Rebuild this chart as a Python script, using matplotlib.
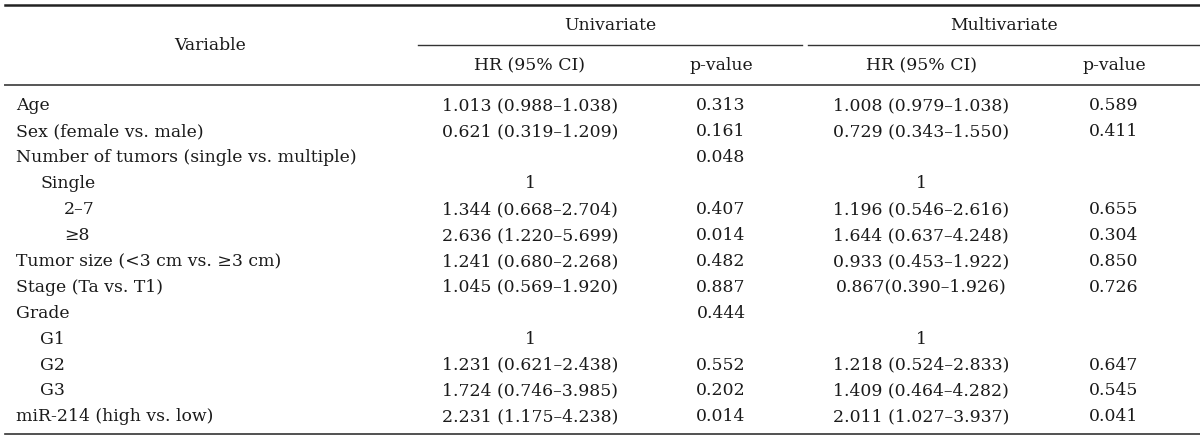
import matplotlib.pyplot as plt

variables = ["Age", "Sex (female vs. male)", "Number of tumors (single vs. multiple)",
             "Single", "2\u20137", "\u22658", "Tumor size (<3 cm vs. \u22653 cm)",
             "Stage (Ta vs. T1)", "Grade", "G1", "G2", "G3", "miR-214 (high vs. low)"]
indent = [0, 0, 0, 1, 2, 2, 0, 0, 0, 1, 1, 1, 0]
uni_hr = ["1.013 (0.988\u20131.038)", "0.621 (0.319\u20131.209)", "", "1",
          "1.344 (0.668\u20132.704)", "2.636 (1.220\u20135.699)", "1.241 (0.680\u20132.268)",
          "1.045 (0.569\u20131.920)", "", "1", "1.231 (0.621\u20132.438)",
          "1.724 (0.746\u20133.985)", "2.231 (1.175\u20134.238)"]
uni_p = ["0.313", "0.161", "0.048", "", "0.407", "0.014", "0.482", "0.887", "0.444",
         "", "0.552", "0.202", "0.014"]
multi_hr = ["1.008 (0.979\u20131.038)", "0.729 (0.343\u20131.550)", "", "1",
            "1.196 (0.546\u20132.616)", "1.644 (0.637\u20134.248)", "0.933 (0.453\u20131.922)",
            "0.867(0.390\u20131.926)", "", "1", "1.218 (0.524\u20132.833)",
            "1.409 (0.464\u20134.282)", "2.011 (1.027\u20133.937)"]
multi_p = ["0.589", "0.411", "", "", "0.655", "0.304", "0.850", "0.726", "", "",
           "0.647", "0.545", "0.041"]

fig = plt.figure(figsize=(12, 4.4), dpi=100)
ax = fig.add_axes([0, 0, 1, 1])
ax.set_xlim(0, 1200)
ax.set_ylim(440, 0)
ax.axis("off")

fs = 12.4
tc = "#1a1a1a"
font = dict(family="DejaVu Serif", fontsize=fs, color=tc, va="center")

# rules
ax.plot([5, 1200], [5, 5], color="#222222", lw=1.8)
ax.plot([418, 802], [45, 45], color="#333333", lw=1)
ax.plot([808, 1200], [45, 45], color="#333333", lw=1)
ax.plot([5, 1200], [85, 85], color="#555555", lw=1.4)
ax.plot([5, 1200], [434, 434], color="#333333", lw=1.2)

# header
ax.text(210, 46, "Variable", ha="center", **font)
ax.text(610, 25, "Univariate", ha="center", **font)
ax.text(1004, 25, "Multivariate", ha="center", **font)
cols = [530, 721, 921, 1114]
for x, lab in zip(cols, ["HR (95% CI)", "p-value", "HR (95% CI)", "p-value"]):
    ax.text(x, 66, lab, ha="center", **font)

y0, dy = 106, 25.9
for i, v in enumerate(variables):
    y = y0 + i * dy
    ax.text(16 + indent[i] * 24, y, v, ha="left", **font)
    for x, col in zip(cols, [uni_hr, uni_p, multi_hr, multi_p]):
        if col[i]:
            ax.text(x, y, col[i], ha="center", **font)

fig.savefig("out.png", dpi=100, facecolor="white")
